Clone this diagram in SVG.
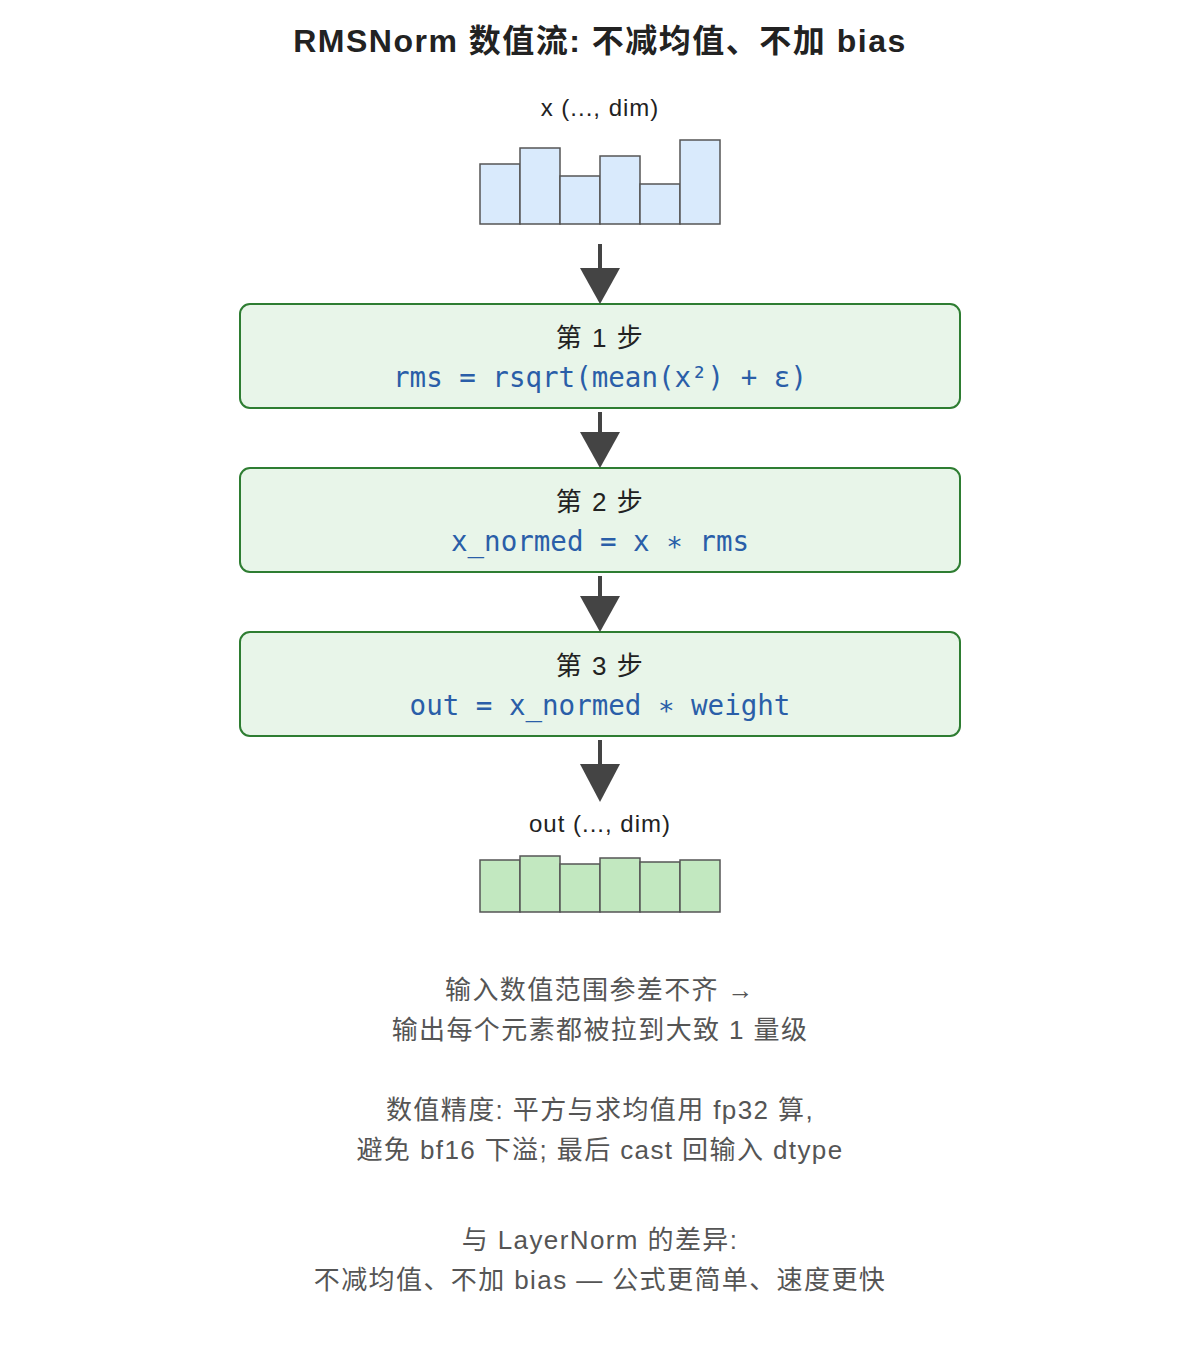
<svg xmlns="http://www.w3.org/2000/svg" width="1200" height="1360" viewBox="0 0 1200 1360">
<style>
.t{font-family:"Liberation Sans","Noto Sans CJK SC",sans-serif;fill:#222;text-anchor:middle}
.n{font-family:"Liberation Sans","Noto Sans CJK SC",sans-serif;fill:#555;font-size:26px;letter-spacing:1.4px;text-anchor:middle}
.c{font-family:"DejaVu Sans Mono","Liberation Mono",monospace;fill:#2a5ea8;font-size:27.5px;text-anchor:middle}
.box{fill:#e8f5e9;stroke:#2e7d32;stroke-width:2}
.bi{fill:#d9eafc;stroke:#555;stroke-width:1.5}
.bo{fill:#c2e8c0;stroke:#555;stroke-width:1.5}
.ar{stroke:#444;stroke-width:4}
</style>
<rect width="1200" height="1360" fill="#fff"/>
<text class="t" x="600" y="52" font-size="32" font-weight="bold" letter-spacing="1.5">RMSNorm 数值流: 不减均值、不加 bias</text>
<g id="input">
<text class="t" x="600" y="116" font-size="24" letter-spacing="1">x (..., dim)</text>
<rect class="bi" x="480" y="164" width="40" height="60"/>
<rect class="bi" x="520" y="148" width="40" height="76"/>
<rect class="bi" x="560" y="176" width="40" height="48"/>
<rect class="bi" x="600" y="156" width="40" height="68"/>
<rect class="bi" x="640" y="184" width="40" height="40"/>
<rect class="bi" x="680" y="140" width="40" height="84"/>
</g>
<g id="step1"><rect class="box" x="240" y="304" width="720" height="104" rx="10"/>
<text class="t" x="600" y="347" font-size="26" letter-spacing="1.5">第 1 步</text>
<text class="c" x="600" y="387">rms = rsqrt(mean(x²) + ε)</text></g>
<g id="step2"><rect class="box" x="240" y="468" width="720" height="104" rx="10"/>
<text class="t" x="600" y="511" font-size="26" letter-spacing="1.5">第 2 步</text>
<text class="c" x="600" y="551">x_normed = x ∗ rms</text></g>
<g id="step3"><rect class="box" x="240" y="632" width="720" height="104" rx="10"/>
<text class="t" x="600" y="675" font-size="26" letter-spacing="1.5">第 3 步</text>
<text class="c" x="600" y="715">out = x_normed ∗ weight</text></g>
<g id="output">
<text class="t" x="600" y="832" font-size="24" letter-spacing="1">out (..., dim)</text>
<rect class="bo" x="480" y="860" width="40" height="52"/>
<rect class="bo" x="520" y="856" width="40" height="56"/>
<rect class="bo" x="560" y="864" width="40" height="48"/>
<rect class="bo" x="600" y="858" width="40" height="54"/>
<rect class="bo" x="640" y="862" width="40" height="50"/>
<rect class="bo" x="680" y="860" width="40" height="52"/>
</g>
<g id="connectors" fill="#444">
<line class="ar" x1="600" y1="244" x2="600" y2="272"/><polygon points="580,268 620,268 600,304"/>
<line class="ar" x1="600" y1="412" x2="600" y2="436"/><polygon points="580,432 620,432 600,468"/>
<line class="ar" x1="600" y1="576" x2="600" y2="600"/><polygon points="580,596 620,596 600,632"/>
<line class="ar" x1="600" y1="740" x2="600" y2="768"/><polygon points="580,764 620,764 600,802"/>
</g>
<g id="notes">
<text class="n" x="600" y="999">输入数值范围参差不齐 →</text>
<text class="n" x="600" y="1039">输出每个元素都被拉到大致 1 量级</text>
<text class="n" x="600" y="1119">数值精度: 平方与求均值用 fp32 算,</text>
<text class="n" x="600" y="1159">避免 bf16 下溢; 最后 cast 回输入 dtype</text>
<text class="n" x="600" y="1249">与 LayerNorm 的差异:</text>
<text class="n" x="600" y="1289">不减均值、不加 bias — 公式更简单、速度更快</text>
</g>
</svg>
